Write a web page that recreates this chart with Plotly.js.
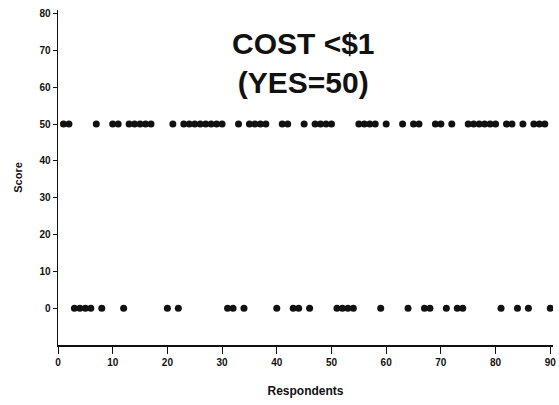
<!DOCTYPE html>
<html>
<head>
<meta charset="utf-8">
<script src="https://cdn.plot.ly/plotly-3.0.1.min.js"></script>
<style>html,body{margin:0;padding:0;background:#fff;}#chart{width:559px;height:405px;}</style>
</head>
<body>
<div id="chart"></div>
<script>
// Respondents answering YES (score 50)
const yesRespondents = [1,2,7,10,11,13,14,15,16,17,21,23,24,25,26,27,28,29,30,33,35,36,37,38,41,42,45,47,48,49,50,55,56,57,58,60,63,65,66,69,70,72,75,76,77,78,79,80,82,83,85,87,88,89];
// Respondents answering NO (score 0)
const noRespondents = [3,4,5,6,8,12,20,22,31,32,34,40,43,44,46,51,52,53,54,59,64,67,68,71,73,74,81,84,86,90];
const yesScore = 50;
const noScore = 0;
const xTicks = [0,10,20,30,40,50,60,70,80,90];
const yTicks = [0,10,20,30,40,50,60,70,80];
const titleLines = ["COST &lt;$1", "(YES=50)"];

const font = "Liberation Sans, Arial, sans-serif";
const marker = {color: "#111", size: 7, symbol: "circle"};

const traces = [
  {x: yesRespondents, y: yesRespondents.map(() => yesScore), type: "scatter", mode: "markers", marker: marker, hoverinfo: "skip"},
  {x: noRespondents, y: noRespondents.map(() => noScore), type: "scatter", mode: "markers", marker: marker, hoverinfo: "skip"}
];

const layout = {
  width: 559, height: 405,
  margin: {l: 58, r: 6, t: 10, b: 60},
  paper_bgcolor: "#fff", plot_bgcolor: "#fff",
  showlegend: false,
  font: {family: font, color: "#111"},
  xaxis: {
    range: [0, 90.5], tickvals: xTicks, ticktext: xTicks.map(String),
    showgrid: false, zeroline: false, showline: true, linecolor: "#111", linewidth: 1.5,
    ticks: "outside", ticklen: 7, tickcolor: "#111",
    tickfont: {family: font, size: 10, color: "#111", weight: "bold"},
    title: {text: "Respondents", font: {family: font, size: 12, color: "#111", weight: "bold"}, standoff: 20}
  },
  yaxis: {
    range: [-10, 81], tickvals: yTicks, ticktext: yTicks.map(String),
    showgrid: false, zeroline: false, showline: true, linecolor: "#111", linewidth: 1.5,
    ticks: "outside", ticklen: 4, tickcolor: "#111",
    tickfont: {family: font, size: 10, color: "#111", weight: "bold"},
    title: {text: "Score", font: {family: font, size: 11, color: "#111", weight: "bold"}, standoff: 14}
  },
  annotations: [{
    xref: "paper", yref: "paper", x: 0.495, y: 0.842, xanchor: "center", yanchor: "middle",
    text: "<b>" + titleLines[0] + "</b><br><b>" + titleLines[1] + "</b>",
    showarrow: false, align: "center",
    font: {family: font, size: 30, color: "#111"}
  }]
};

Plotly.newPlot("chart", traces, layout, {displayModeBar: false, staticPlot: true});
</script>
</body>
</html>
